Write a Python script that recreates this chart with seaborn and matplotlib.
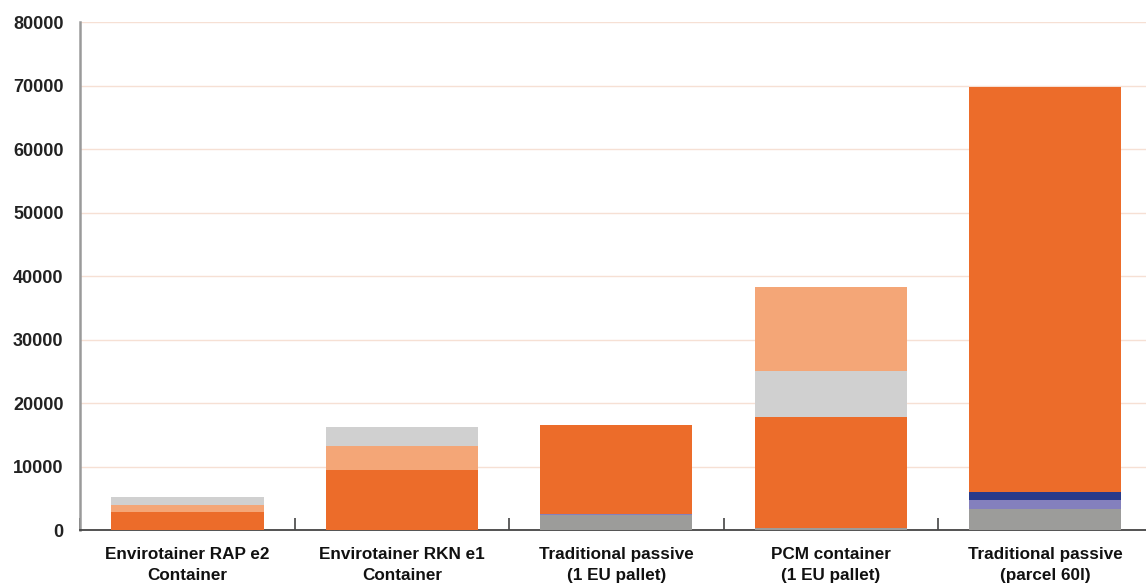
import numpy as np
import pandas as pd
import matplotlib
matplotlib.use("Agg")
import matplotlib.pyplot as plt
import seaborn as sns

# categories along the x axis
categories = ["Envirotainer RAP e2\nContainer", "Envirotainer RKN e1\nContainer",
              "Traditional passive\n(1 EU pallet)", "PCM container\n(1 EU pallet)",
              "Traditional passive\n(parcel 60l)"]

# stacked segments, bottom to top
seg_gray = [0, 0, 2300, 250, 3250]
seg_purple = [0, 0, 300, 0, 1450]
seg_navy = [0, 0, 0, 0, 1300]
seg_orange = [2850, 9450, 13900, 17600, 63750]
seg_light_orange_a = [1100, 3800, 0, 0, 0]
seg_light_gray = [1250, 2950, 0, 7200, 0]
seg_light_orange_b = [0, 0, 0, 13250, 0]

segments = [seg_gray, seg_purple, seg_navy, seg_orange,
            seg_light_orange_a, seg_light_gray, seg_light_orange_b]
colors = ["#9c9c9a", "#8480bd", "#283a8a", "#ec6c2a",
          "#f4a677", "#d0d0d0", "#f4a677"]

sns.set_style("white")
plt.rcParams['font.family'] = ['Liberation Sans', 'DejaVu Sans']

fig = plt.figure(figsize=(11.46, 5.85), dpi=100)
ax = fig.add_axes([0.07, 0.094, 0.93, 0.868])

bottom = np.zeros(len(categories))
for vals, c in zip(segments, colors):
    sns.barplot(x=categories, y=vals, bottom=bottom, color=c, width=0.71,
                saturation=1, linewidth=0, edgecolor=c, ax=ax, zorder=3)
    bottom = bottom + np.array(vals)

ax.set_ylim(0, 80000)
ax.set_xlim(-0.5, 4.47)
ax.set_yticks(np.arange(0, 80001, 10000))
ax.set_yticklabels([str(v) for v in range(0, 80001, 10000)],
                   fontsize=13, fontweight='bold', color="#222222")
ax.yaxis.grid(True, color="#f6e0d4", linewidth=1, zorder=0)
ax.set_axisbelow(True)

ax.set_xticks(range(len(categories)))
ax.set_xticklabels(categories, fontsize=12.3, fontweight='bold', color="#111111",
                   linespacing=1.5)
ax.tick_params(axis='x', which='major', length=0, pad=12)
ax.tick_params(axis='y', length=0, pad=12)
ax.set_xticks([-0.5, 0.5, 1.5, 2.5, 3.5], minor=True)
ax.tick_params(axis='x', which='minor', bottom=True, direction='in', length=9,
               width=1.2, color="#444444")

for s in ["top", "right"]:
    ax.spines[s].set_visible(False)
ax.spines["left"].set_color("#9a9a9a")
ax.spines["left"].set_linewidth(1.8)
ax.spines["bottom"].set_color("#444444")
ax.spines["bottom"].set_linewidth(1.3)
ax.set_xlabel("")
ax.set_ylabel("")

fig.savefig("out.png", dpi=100)
